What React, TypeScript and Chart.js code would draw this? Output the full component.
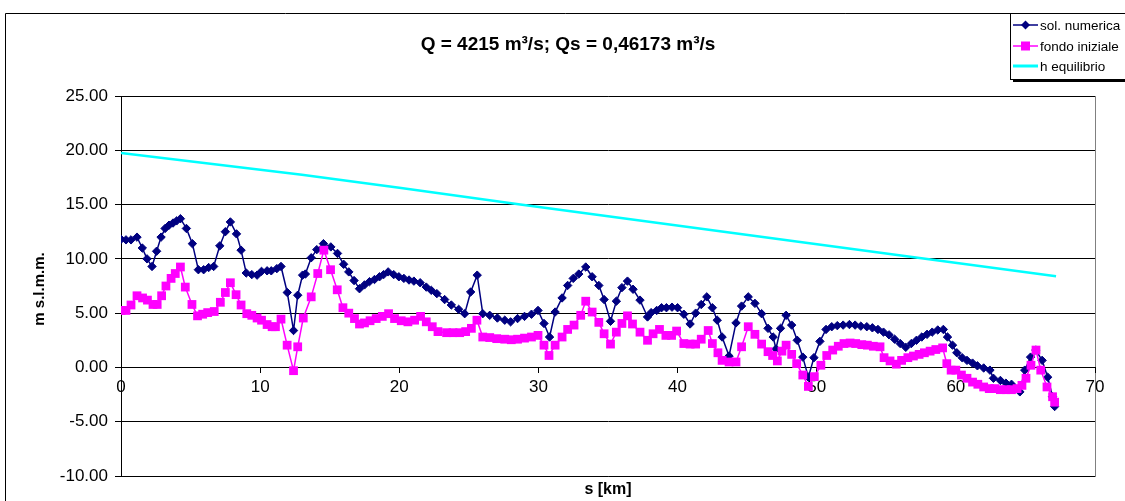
import React, { useEffect, useRef } from "react";
import { Chart, registerables } from "chart.js";

Chart.register(...registerables);

// Titles and series names
const chartTitle = "Q = 4215 m³/s; Qs = 0,46173 m³/s";
const yTitle = "m s.l.m.m.";
const xTitle = "s [km]";
const seriesLabels = ["sol. numerica", "fondo iniziale", "h equilibrio"];

// Axis ranges and tick steps
const yTicksRange = [-10, 25, 5];
const xTicksRange = [0, 70, 10];

// sol. numerica: progressive distance [km] and bed elevation [m s.l.m.m.]
const solKm = [
  0, 0.36, 0.72, 1.15, 1.53, 1.87, 2.23, 2.56, 2.88, 3.17,
  3.45, 3.74, 4.0, 4.27, 4.7, 5.13, 5.56, 5.94, 6.3, 6.66,
  7.1, 7.5, 7.86, 8.3, 8.63, 9.0, 9.4, 9.78, 10.1, 10.5,
  10.8, 11.2, 11.5, 11.95, 12.4, 12.7, 13.05, 13.25, 13.67, 14.07,
  14.55, 15.08, 15.56, 16.0, 16.37, 16.75, 17.14, 17.5, 17.86, 18.22,
  18.58, 18.87, 19.2, 19.6, 19.97, 20.33, 20.7, 21.05, 21.5, 21.94,
  22.3, 22.7, 23.26, 23.74, 24.27, 24.7, 25.13, 25.6, 26.0, 26.5,
  27.05, 27.58, 28.0, 28.5, 29.0, 29.5, 29.97, 30.4, 30.8, 31.2,
  31.7, 32.1, 32.5, 32.9, 33.4, 33.86, 34.34, 34.72, 35.18, 35.6,
  36.0, 36.4, 36.8, 37.3, 37.84, 38.1, 38.5, 38.85, 39.2, 39.6,
  40.0, 40.45, 40.9, 41.3, 41.7, 42.1, 42.5, 42.85, 43.2, 43.7,
  44.2, 44.6, 45.08, 45.56, 46.04, 46.5, 46.87, 47.07, 47.4, 47.8,
  48.2, 48.6, 49.0, 49.4, 49.8, 50.23, 50.67, 51.08, 51.48, 51.9,
  52.35, 52.76, 53.17, 53.6, 54.0, 54.4, 54.8, 55.2, 55.6, 56.0,
  56.4, 56.8, 57.17, 57.55, 57.93, 58.3, 58.7, 59.1, 59.4, 59.76,
  60.07, 60.45, 60.8, 61.2, 61.55, 62.0, 62.45, 62.7, 63.2, 63.6,
  64.0, 64.6, 64.95, 65.37, 65.75, 66.2, 66.6, 66.95, 67.1,
];
const solQuota = [
  11.8, 11.75, 11.75, 12.0, 11.0, 10.0, 9.3, 10.7, 12.0, 12.8,
  13.1, 13.3, 13.5, 13.7, 12.8, 11.4, 9.0, 9.0, 9.2, 9.3,
  11.2, 12.5, 13.4, 12.3, 10.8, 8.7, 8.55, 8.5, 8.85, 8.9,
  8.9, 9.1, 9.3, 6.9, 3.4, 6.65, 8.5, 8.6, 10.1, 10.85,
  11.4, 11.1, 10.5, 9.5, 8.8, 8.0, 7.25, 7.6, 7.9, 8.1,
  8.35, 8.55, 8.8, 8.55, 8.35, 8.2, 8.05, 7.95, 7.8, 7.4,
  7.1, 6.8, 6.25, 5.75, 5.35, 4.95, 6.95, 8.5, 4.95, 4.8,
  4.55, 4.35, 4.2, 4.5, 4.7, 4.9, 5.25, 4.05, 2.8, 5.1,
  6.4, 7.55, 8.2, 8.6, 9.25, 8.35, 7.55, 6.25, 4.25, 6.1,
  7.35, 7.95, 7.2, 6.2, 4.65, 5.05, 5.25, 5.5, 5.5, 5.55,
  5.5, 4.9, 4.0, 5.0, 5.8, 6.5, 5.5, 4.35, 2.8, 1.05,
  4.1, 5.65, 6.5, 5.9, 4.95, 3.6, 2.8, 1.7, 3.6, 4.8,
  3.9, 2.5, 0.95, -0.9, 0.9, 2.4, 3.5, 3.75, 3.85, 3.9,
  3.95, 3.9, 3.8, 3.75, 3.65, 3.5, 3.25, 3.0, 2.6, 2.2,
  1.85, 2.2, 2.5, 2.8, 3.05, 3.25, 3.45, 3.5, 2.8, 2.05,
  1.35, 0.9, 0.65, 0.4, 0.15, -0.05, -0.25, -1.0, -1.2, -1.45,
  -1.55, -2.25, -0.25, 0.95, 1.6, 0.65, -0.9, -2.7, -3.6,
];

// fondo iniziale: progressive distance [km] and initial bed elevation
const fondoKm = [
  0, 0.36, 0.72, 1.15, 1.55, 1.9, 2.3, 2.6, 2.92, 3.23,
  3.6, 3.9, 4.27, 4.62, 5.1, 5.5, 5.87, 6.23, 6.7, 7.14,
  7.5, 7.86, 8.27, 8.63, 9.04, 9.4, 9.78, 10.1, 10.5, 10.86,
  11.1, 11.5, 11.94, 12.4, 12.7, 13.1, 13.67, 14.14, 14.58, 15.06,
  15.54, 15.95, 16.37, 16.78, 17.14, 17.5, 17.9, 18.34, 18.78, 19.23,
  19.66, 20.14, 20.62, 21.1, 21.53, 21.94, 22.37, 22.78, 23.4, 23.86,
  24.34, 24.77, 25.18, 25.58, 26.0, 26.5, 27.0, 27.58, 28.05, 28.5,
  29.0, 29.5, 29.97, 30.4, 30.76, 31.2, 31.7, 32.1, 32.56, 33.04,
  33.4, 33.86, 34.34, 34.72, 35.18, 35.6, 36.0, 36.4, 36.76, 37.3,
  37.84, 38.24, 38.7, 39.16, 39.57, 39.93, 40.45, 40.9, 41.3, 41.7,
  42.2, 42.5, 42.9, 43.2, 43.7, 44.2, 44.6, 45.08, 45.56, 46.04,
  46.5, 46.83, 47.17, 47.5, 47.8, 48.2, 48.56, 49.0, 49.4, 49.83,
  50.3, 50.72, 51.15, 51.55, 51.96, 52.4, 52.8, 53.24, 53.64, 54.07,
  54.55, 54.84, 55.27, 55.72, 56.1, 56.55, 56.95, 57.36, 57.74, 58.15,
  58.56, 59.05, 59.35, 59.66, 60.0, 60.4, 60.8, 61.2, 61.58, 62.0,
  62.4, 62.8, 63.2, 63.6, 64.0, 64.4, 64.75, 65.04, 65.4, 65.76,
  66.1, 66.55, 66.95, 67.1,
];
const fondoQuota = [
  5.25, 5.25, 5.75, 6.6, 6.4, 6.2, 5.8, 5.8, 6.6, 7.5,
  8.2, 8.65, 9.25, 7.4, 5.8, 4.75, 4.9, 5.05, 5.15, 6.0,
  6.9, 7.8, 6.7, 5.75, 4.95, 4.8, 4.55, 4.35, 3.95, 3.75,
  3.75, 4.45, 2.05, -0.3, 1.9, 4.55, 6.5, 8.65, 10.8, 9.0,
  7.15, 5.5, 5.0, 4.5, 4.0, 4.1, 4.3, 4.5, 4.7, 4.95,
  4.5, 4.3, 4.2, 4.35, 4.7, 4.2, 3.75, 3.3, 3.2, 3.2,
  3.2, 3.3, 3.6, 4.35, 2.8, 2.75, 2.65, 2.6, 2.55, 2.6,
  2.7, 2.8, 2.95, 2.05, 1.1, 2.05, 2.8, 3.5, 3.9, 4.8,
  6.1, 5.1, 4.15, 3.1, 2.15, 3.25, 4.05, 4.75, 4.0, 3.25,
  2.5, 3.1, 3.5, 2.95, 2.95, 3.35, 2.2, 2.15, 2.15, 2.6,
  3.4, 2.2, 1.35, 0.65, 0.5, 0.5, 1.9, 3.75, 3.05, 2.15,
  1.45, 1.1, 0.6, 1.5, 2.05, 1.2, 0.35, -0.7, -1.75, -0.85,
  0.2, 1.1, 1.6, 1.95, 2.2, 2.25, 2.2, 2.1, 2.05, 1.95,
  1.9, 0.9, 0.6, 0.3, 0.65, 0.9, 1.05, 1.2, 1.35, 1.5,
  1.65, 1.8, 0.35, -0.25, -0.25, -0.7, -1.0, -1.35, -1.55, -1.8,
  -1.95, -1.95, -2.05, -2.05, -2.05, -1.95, -1.65, -1.0, 0.2, 1.6,
  -0.25, -1.8, -2.7, -3.2,
];

// h equilibrio: equilibrium profile
const eqKm = [0, 13, 20, 28.7, 57.8, 67.2];
const eqQuota = [19.75, 17.75, 16.55, 15.0, 10.0, 8.4];

const colors = ["#000080", "#FF00FF", "#00FFFF"];
const FONT = '"Liberation Sans", Arial, sans-serif';

const toPoints = (xs: number[], ys: number[]) => xs.map((x, i) => ({ x, y: ys[i] }));

function drawMarker(ctx: CanvasRenderingContext2D, kind: string, x: number, y: number, color: string) {
  ctx.fillStyle = color;
  ctx.beginPath();
  if (kind === "diamond") {
    const r = 4.5;
    ctx.moveTo(x - r, y);
    ctx.lineTo(x, y - r);
    ctx.lineTo(x + r, y);
    ctx.lineTo(x, y + r);
    ctx.closePath();
  } else if (kind === "square") {
    ctx.rect(x - 4.5, y - 4.5, 9, 9);
  }
  ctx.fill();
}

const frameAndText = {
  id: "frameAndText",
  beforeDraw(chart: any) {
    const ctx: CanvasRenderingContext2D = chart.ctx;
    ctx.save();
    ctx.fillStyle = "#fff";
    ctx.fillRect(0, 0, chart.width, chart.height);
    // outer chart frame
    ctx.strokeStyle = "#000";
    ctx.lineWidth = 1;
    ctx.beginPath();
    ctx.moveTo(5.5, chart.height + 2);
    ctx.lineTo(5.5, 13.5);
    ctx.lineTo(chart.width + 2, 13.5);
    ctx.stroke();
    // plot area frame
    const a = chart.chartArea;
    ctx.strokeStyle = "#808080";
    ctx.strokeRect(Math.round(a.left) + 0.5, Math.round(a.top) + 0.5, Math.round(a.right - a.left), Math.round(a.bottom - a.top));
    ctx.restore();
  },
  afterDraw(chart: any) {
    const ctx: CanvasRenderingContext2D = chart.ctx;
    const a = chart.chartArea;
    ctx.save();
    ctx.fillStyle = "#000";
    ctx.textAlign = "center";
    ctx.textBaseline = "middle";
    ctx.font = `bold 19px ${FONT}`;
    ctx.fillText(chartTitle, 568, 45);
    ctx.font = `bold 16px ${FONT}`;
    ctx.fillText(xTitle, (a.left + a.right) / 2, 490);
    ctx.save();
    ctx.translate(40, (a.top + a.bottom) / 2 + 3);
    ctx.rotate(-Math.PI / 2);
    ctx.font = `bold 15px ${FONT}`;
    ctx.fillText(yTitle, 0, 0);
    ctx.restore();

    // legend box with shadow
    const lx = 1010, ly = 13, lw = 140, lh = 66;
    ctx.fillStyle = "#000";
    ctx.fillRect(lx + 3, ly + 3, lw, lh);
    ctx.fillStyle = "#fff";
    ctx.fillRect(lx, ly, lw, lh);
    ctx.strokeStyle = "#000";
    ctx.lineWidth = 1;
    ctx.strokeRect(lx + 0.5, ly + 0.5, lw, lh);
    const kinds = ["diamond", "square", "none"];
    const rowsY = [25, 46, 66];
    ctx.textAlign = "left";
    ctx.font = `13.5px ${FONT}`;
    seriesLabels.forEach((label, i) => {
      const y = rowsY[i];
      ctx.strokeStyle = colors[i];
      ctx.lineWidth = i === 2 ? 3 : 1.5;
      ctx.beginPath();
      ctx.moveTo(lx + 3, y);
      ctx.lineTo(lx + 28, y);
      ctx.stroke();
      drawMarker(ctx, kinds[i], lx + 15.5, y, colors[i]);
      ctx.fillStyle = "#000";
      ctx.fillText(label, lx + 30, y + 1);
    });
    ctx.restore();
  },
};

export default function App() {
  const canvasRef = useRef<HTMLCanvasElement | null>(null);

  useEffect(() => {
    const canvas = canvasRef.current;
    if (!canvas) return;
    const chart = new Chart(canvas, {
      type: "line",
      data: {
        datasets: [
          {
            label: seriesLabels[0],
            data: toPoints(solKm, solQuota),
            borderColor: colors[0],
            backgroundColor: colors[0],
            borderWidth: 1.5,
            pointStyle: "rectRot",
            pointRadius: 4.2,
            pointBorderWidth: 1,
            tension: 0,
            order: 2,
          },
          {
            label: seriesLabels[1],
            data: toPoints(fondoKm, fondoQuota),
            borderColor: colors[1],
            backgroundColor: colors[1],
            borderWidth: 1.5,
            pointStyle: "rect",
            pointRadius: 6.2,
            pointBorderWidth: 0,
            tension: 0,
            order: 1,
          },
          {
            label: seriesLabels[2],
            data: toPoints(eqKm, eqQuota),
            borderColor: colors[2],
            backgroundColor: colors[2],
            borderWidth: 2.5,
            pointRadius: 0,
            tension: 0,
            order: 3,
          },
        ],
      },
      options: {
        responsive: false,
        animation: false,
        devicePixelRatio: 1,
        layout: { padding: { left: 0, top: 96, right: 30, bottom: 25 } },
        plugins: {
          legend: { display: false },
          title: { display: false },
          tooltip: { enabled: false },
        },
        scales: {
          x: {
            type: "linear",
            position: { y: 0 } as any,
            min: xTicksRange[0],
            max: xTicksRange[1],
            ticks: {
              stepSize: xTicksRange[2],
              color: "#000",
              font: { family: FONT, size: 17 },
              padding: 5,
              maxRotation: 0,
              callback: (v: any) => String(v),
            },
            grid: { display: true, drawOnChartArea: false, drawTicks: true, tickLength: 5, color: "#000" },
            border: { display: true, color: "#000", width: 1 },
          },
          y: {
            type: "linear",
            position: "left",
            min: yTicksRange[0],
            max: yTicksRange[1],
            afterFit: (scale: any) => {
              scale.width = 121;
            },
            ticks: {
              stepSize: yTicksRange[2],
              color: "#000",
              font: { family: FONT, size: 17 },
              padding: 7,
              callback: (v: any) => Number(v).toFixed(2),
            },
            grid: { color: "#000", tickLength: 6, drawTicks: true },
            border: { display: true, color: "#000", width: 1 },
          },
        },
      },
      plugins: [frameAndText],
    });
    return () => chart.destroy();
  }, []);

  return (
    <div style={{ position: "absolute", left: 0, top: 0, width: 1125, height: 501, background: "#fff", overflow: "hidden" }}>
      <canvas ref={canvasRef} width={1125} height={501} style={{ display: "block" }} />
    </div>
  );
}
